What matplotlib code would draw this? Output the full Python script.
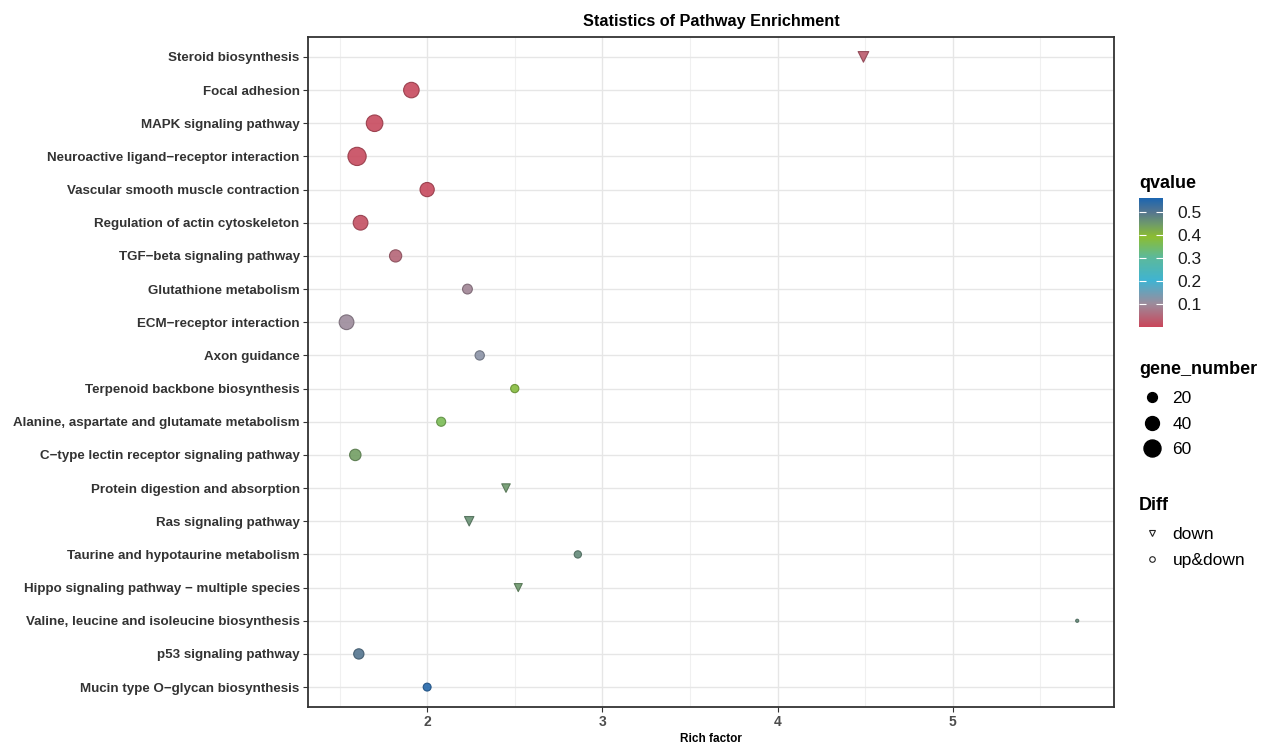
import numpy as np
import matplotlib.pyplot as plt
from matplotlib.colors import LinearSegmentedColormap, Normalize
from matplotlib.lines import Line2D

plt.rcParams['font.family'] = ['Liberation Sans', 'DejaVu Sans']

# pathway enrichment results (top to bottom)
pathways = [
    'Steroid biosynthesis',
    'Focal adhesion',
    'MAPK signaling pathway',
    'Neuroactive ligand\u2212receptor interaction',
    'Vascular smooth muscle contraction',
    'Regulation of actin cytoskeleton',
    'TGF\u2212beta signaling pathway',
    'Glutathione metabolism',
    'ECM\u2212receptor interaction',
    'Axon guidance',
    'Terpenoid backbone biosynthesis',
    'Alanine, aspartate and glutamate metabolism',
    'C\u2212type lectin receptor signaling pathway',
    'Protein digestion and absorption',
    'Ras signaling pathway',
    'Taurine and hypotaurine metabolism',
    'Hippo signaling pathway \u2212 multiple species',
    'Valine, leucine and isoleucine biosynthesis',
    'p53 signaling pathway',
    'Mucin type O\u2212glycan biosynthesis',
]
rich_factor = [4.49, 1.91, 1.70, 1.60, 2.00, 1.62, 1.82, 2.23, 1.54, 2.30,
               2.50, 2.08, 1.59, 2.45, 2.24, 2.86, 2.52, 5.71, 1.61, 2.00]
gene_number = [14, 50, 57, 69, 42, 45, 31, 20, 45, 18,
               14, 17, 27, 9, 11, 11, 8, 2, 22, 13]
qvalue = [0.03, 0.005, 0.005, 0.005, 0.006, 0.012, 0.045, 0.09, 0.10, 0.12,
          0.38, 0.36, 0.44, 0.45, 0.46, 0.47, 0.45, 0.47, 0.50, 0.55]
diff = ['down', 'up&down', 'up&down', 'up&down', 'up&down', 'up&down',
        'up&down', 'up&down', 'up&down', 'up&down', 'up&down', 'up&down',
        'up&down', 'down', 'down', 'up&down', 'down', 'up&down', 'up&down',
        'up&down']

size_breaks = [20, 40, 60]
q_ticks = [0.1, 0.2, 0.3, 0.4, 0.5]

cmap = LinearSegmentedColormap.from_list('qv', [
    (0.00, '#c9475b'),
    (0.18, '#9b8c9c'),
    (0.36, '#3fb3d2'),
    (0.54, '#5cb99a'),
    (0.70, '#8cbd30'),
    (0.80, '#6e9a6a'),
    (0.89, '#56768e'),
    (1.00, '#1d66b0'),
])
norm = Normalize(vmin=0.0, vmax=0.56)

W, H = 1266, 746
fig = plt.figure(figsize=(W / 100, H / 100), dpi=100)
ax = fig.add_axes([308 / W, 1 - 707 / H, 806 / W, 670 / H])

y = np.arange(len(pathways))
rf = np.array(rich_factor)
gn = np.array(gene_number, dtype=float)
qv = np.array(qvalue)
is_down = np.array([d == 'down' for d in diff])

def darker(c, f=0.75):
    return (c[0] * f, c[1] * f, c[2] * f, 1.0)

for mask, marker, scale in [(~is_down, 'o', 2.5), (is_down, 'v', 4.2)]:
    cols = cmap(norm(qv[mask]))
    ax.scatter(rf[mask], y[mask], s=gn[mask] * scale, c=cols, marker=marker,
               alpha=0.9, edgecolors=[darker(c) for c in cols],
               linewidths=0.8, zorder=3)

ax.set_xlim(1.32, 5.92)
ax.set_ylim(len(pathways) - 0.4, -0.6)
ax.set_yticks(y)
ax.set_yticklabels(pathways, fontsize=9.6, fontweight='bold', color='#333333')
ax.set_xticks([2, 3, 4, 5])
ax.set_xticks([1.5, 2.5, 3.5, 4.5, 5.5], minor=True)
ax.set_xticklabels(['2', '3', '4', '5'], fontsize=10, fontweight='bold',
                   color='#4d4d4d')
ax.tick_params(axis='both', which='major', length=3.5, width=0.8,
               color='#333333', pad=2.5)
ax.tick_params(axis='x', which='minor', length=0)
ax.grid(True, which='major', color='#e6e6e6', linewidth=1.0, zorder=0)
ax.grid(True, which='minor', axis='x', color='#f0f0f0', linewidth=0.8, zorder=0)
ax.set_axisbelow(True)
for sp in ax.spines.values():
    sp.set_color('#333333')
    sp.set_linewidth(1.3)
ax.set_xlabel('Rich factor', fontsize=8.5, fontweight='bold', labelpad=3)
ax.set_title('Statistics of Pathway Enrichment', fontsize=11.7,
             fontweight='bold', pad=8)

# qvalue colorbar
cax = fig.add_axes([1139 / W, 1 - 327 / H, 24 / W, 129 / H])
sm = plt.cm.ScalarMappable(norm=norm, cmap=cmap)
cb = fig.colorbar(sm, cax=cax, ticks=q_ticks)
cb.outline.set_visible(False)
cb.ax.set_yticklabels([f'{t:.1f}' for t in q_ticks], fontsize=12.5,
                      color='#1a1a1a')
cb.ax.tick_params(which='major', direction='in', color='white', length=5,
                  width=0.8, left=True, right=True, pad=10)

title_kw = dict(fontsize=13, fontweight='bold', va='center', ha='left')
fig.text(1139 / W, 1 - 183 / H, 'qvalue', **title_kw)
fig.text(1139 / W, 1 - 370 / H, 'gene_number', **title_kw)
fig.text(1139 / W, 1 - 506 / H, 'Diff', **title_kw)

leg_kw = dict(loc='upper left', frameon=False, fontsize=12.5,
              handletextpad=0.55, alignment='left', handlelength=1.2,
              borderaxespad=0, borderpad=0)

# gene_number size legend
size_handles = [Line2D([], [], linestyle='none', marker='o', color='black',
                       markersize=np.sqrt(2.5 * v)) for v in size_breaks]
fig.legend(size_handles, [str(v) for v in size_breaks],
           bbox_to_anchor=(1142 / W, 1 - 391 / H), labelspacing=0.6,
           **leg_kw)

# Diff shape legend
shape_handles = [
    Line2D([], [], linestyle='none', marker='v', markersize=5,
           markerfacecolor='white', markeredgecolor='#222222',
           markeredgewidth=0.8),
    Line2D([], [], linestyle='none', marker='o', markersize=4,
           markerfacecolor='white', markeredgecolor='#222222',
           markeredgewidth=0.8),
]
fig.legend(shape_handles, ['down', 'up&down'],
           bbox_to_anchor=(1142 / W, 1 - 527 / H), labelspacing=0.62,
           **leg_kw)

fig.savefig('out.png', dpi=100)
